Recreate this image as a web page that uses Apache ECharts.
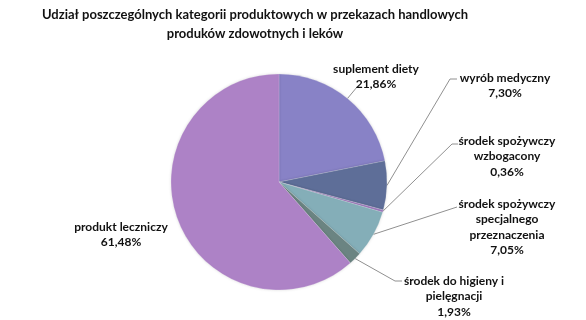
<!DOCTYPE html>
<html><head><meta charset="utf-8">
<script src="https://cdn.jsdelivr.net/npm/echarts@6/dist/echarts.min.js"></script>
<style>html,body{margin:0;padding:0;background:#fff}#c{width:586px;height:320px}</style>
</head><body><div id="c"></div>
<script>
const categories = ['suplement diety','wyrób medyczny','środek spożywczy\nwzbogacony','środek spożywczy\nspecjalnego\nprzeznaczenia','środek do higieny i\npielęgnacji','produkt leczniczy'];
const values = [21.86, 7.30, 0.36, 7.05, 1.93, 61.48];
const colors = ['#8882C6','#5E6E98','#A07CC0','#84AEB8','#6B8482','#AD82C6'];
const titleLines = ['Udział poszczególnych kategorii produktowych w przekazach handlowych','produków zdowotnych i leków'];

// label placement (text center x, top y) and leader line elbow
const labelPos = [
  {x:376, y:61, elbow:[357,87], endAt:[357,87]},
  {x:505, y:70, elbow:[450,79], endAt:[457,79]},
  {x:507, y:133, elbow:[452,144], endAt:[458,144]},
  {x:507, y:196, elbow:[457,207], endAt:[457,207]},
  {x:454, y:273, elbow:[395,281], endAt:[402,281]},
  {x:121, y:219, elbow:null}
];

const chart = echarts.init(document.getElementById('c'));
const fontFam = 'Lato';
chart.setOption({
  animation:false,
  title:{text:titleLines.join('\n'), left:250, textAlign:'center', top:0,
    textStyle:{fontFamily:fontFam, fontWeight:'bold', fontSize:13, color:'#111', lineHeight:19}},
  series:[{
    type:'pie', center:[279,182], radius:108, startAngle:90, clockwise:true,
    itemStyle:{borderColor:'rgba(255,255,255,0.35)', borderWidth:0.5, shadowColor:'rgba(0,0,0,0.15)', shadowBlur:3},
    label:{show:true, fontFamily:fontFam, fontWeight:'bold', fontSize:12, color:'#111', lineHeight:15.5, align:'center',
      formatter:p=>p.name+'\n'+p.value.toFixed(2).replace('.',',')+'%'},
    labelLine:{show:true, lineStyle:{color:'#909090', width:1}},
    labelLayout:function(params){
      const lp = labelPos[params.dataIndex];
      const res = {x:lp.x, y:lp.y, align:'center', verticalAlign:'top'};
      if (lp.elbow && params.labelLinePoints) {
        const p0 = params.labelLinePoints[0];
        res.labelLinePoints = [p0, lp.elbow, lp.endAt];
      }
      return res;
    },
    data: categories.map((c,i)=>({name:c, value:values[i], itemStyle:{color:colors[i]},
      labelLine:{show: i!==5}}))
  }]
});
</script></body></html>
